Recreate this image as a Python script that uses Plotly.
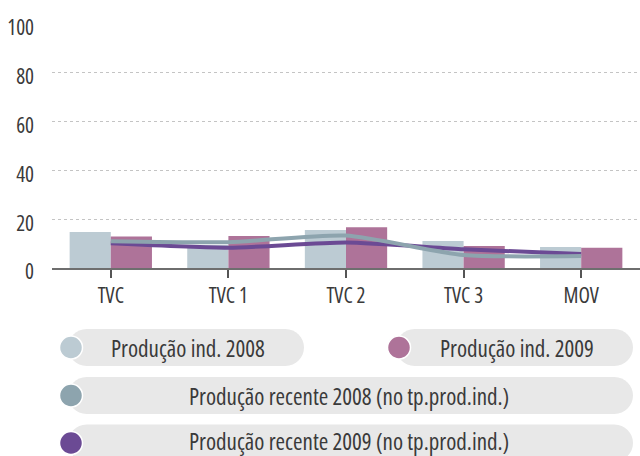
import plotly.graph_objects as go

# Categories and values
categories = ["TVC", "TVC 1", "TVC 2", "TVC 3", "MOV"]
prod_ind_2008 = [14.8, 9.4, 15.6, 11.1, 8.6]
prod_ind_2009 = [12.9, 13.1, 16.7, 9.0, 8.3]
recente_2008 = [11.0, 10.6, 13.3, 5.3, 4.9]
recente_2009 = [10.1, 8.3, 10.4, 7.7, 5.7]
y_ticks = [0, 20, 40, 60, 80, 100]

legend_labels = [
    "Produção ind. 2008",
    "Produção ind. 2009",
    "Produção recente 2008 (no tp.prod.ind.)",
    "Produção recente 2009 (no tp.prod.ind.)",
]

C_IND_08 = "#bccbd3"
C_IND_09 = "#ae7399"
C_REC_08 = "#8da4ae"
C_REC_09 = "#6b4a94"
FONT = "Open Sans, Roboto, sans-serif"
TEXT_COL = "#3a3a3a"


def narrow(s):
    # condensed width of the variable Open Sans face
    return f'<span style="font-stretch:75%">{s}</span>'


W, H = 640, 456
ML, MR, MT, MB = 52, 0, 24, 188
PW, PH = W - ML - MR, H - MT - MB

fig = go.Figure()
fig.add_trace(go.Bar(x=categories, y=prod_ind_2008, marker_color=C_IND_08,
                     marker_line_width=0, name=legend_labels[0]))
fig.add_trace(go.Bar(x=categories, y=prod_ind_2009, marker_color=C_IND_09,
                     marker_line_width=0, name=legend_labels[1]))
fig.add_trace(go.Scatter(x=categories, y=recente_2009, mode="lines",
                         line=dict(color=C_REC_09, width=4, shape="spline", smoothing=0.6),
                         name=legend_labels[3]))
fig.add_trace(go.Scatter(x=categories, y=recente_2008, mode="lines",
                         line=dict(color=C_REC_08, width=4, shape="spline", smoothing=0.6),
                         name=legend_labels[2]))


def px_x(X):
    return (X - ML) / PW


def px_y(Y):
    return (MT + PH - Y) / PH


def pill_path(x0, x1, yc, r):
    # rounded capsule, built from cubic curves, in paper coordinates
    k = 0.5523 * r
    xl, xr = x0 + r, x1 - r
    seg = [
        ("M", [(xl, yc - r)]),
        ("L", [(xr, yc - r)]),
        ("C", [(xr + k, yc - r), (x1, yc - k), (x1, yc)]),
        ("C", [(x1, yc + k), (xr + k, yc + r), (xr, yc + r)]),
        ("L", [(xl, yc + r)]),
        ("C", [(xl - k, yc + r), (x0, yc + k), (x0, yc)]),
        ("C", [(x0, yc - k), (xl - k, yc - r), (xl, yc - r)]),
    ]
    parts = [cmd + " " + " ".join(f"{px_x(a):.5f},{px_y(b):.5f}" for a, b in p) for cmd, p in seg]
    return " ".join(parts) + " Z"


shapes = []
annotations = []
PILL_R = 18.5
DOT_R = 11.5
legend_items = [
    # (pill x0, pill x1, row center y, dot x, text center x, text center y, label, colour)
    (68, 304, 347.5, 71, 188, 347.5, legend_labels[0], C_IND_08),
    (396, 633, 347.5, 399, 517, 347.5, legend_labels[1], C_IND_09),
    (68, 633, 395.5, 71, 349, 395.5, legend_labels[2], C_REC_08),
    (68, 633, 443, 71, 349, 441, legend_labels[3], C_REC_09),
]
for x0, x1, yc, dx, tx, ty, label, col in legend_items:
    shapes.append(dict(type="path", path=pill_path(x0, x1, yc, PILL_R),
                       xref="paper", yref="paper", fillcolor="#e8e8e8",
                       line=dict(width=0), layer="below"))
    shapes.append(dict(type="circle", xref="paper", yref="paper",
                       x0=px_x(dx - DOT_R), x1=px_x(dx + DOT_R),
                       y0=px_y(yc + DOT_R), y1=px_y(yc - DOT_R),
                       fillcolor=col, line=dict(color="white", width=1.5)))
    annotations.append(dict(text=narrow(label), xref="paper", yref="paper",
                            x=px_x(tx), y=px_y(ty), xanchor="center", yanchor="middle",
                            borderpad=0, borderwidth=0,
                            showarrow=False, font=dict(family=FONT, size=23, color=TEXT_COL)))

fig.update_layout(
    width=W, height=H,
    margin=dict(l=ML, r=MR, t=MT, b=MB, pad=0),
    paper_bgcolor="white", plot_bgcolor="white",
    barmode="group", bargap=0.3, bargroupgap=0,
    showlegend=False,
    shapes=shapes, annotations=annotations,
    font=dict(family=FONT, color=TEXT_COL),
)
fig.update_xaxes(
    type="category", range=[-0.5, 4.5],
    tickvals=categories, ticktext=[narrow(c) for c in categories],
    showline=True, linecolor="#6e6e6e", linewidth=2,
    ticks="outside", ticklen=8, tickwidth=1.5, tickcolor="#555555",
    showgrid=False, tickfont=dict(family=FONT, size=21, color=TEXT_COL),
)
fig.update_yaxes(
    range=[0, 100], tickvals=y_ticks, ticktext=[narrow(str(v)) for v in y_ticks],
    showgrid=True, gridcolor="#c4c4c4", gridwidth=1, griddash="dot",
    zeroline=False, showline=False, ticks="",
    ticklabelstandoff=17, ticklabelshift=4,
    tickfont=dict(family=FONT, size=21, color=TEXT_COL),
)

fig.write_html("out.html")
